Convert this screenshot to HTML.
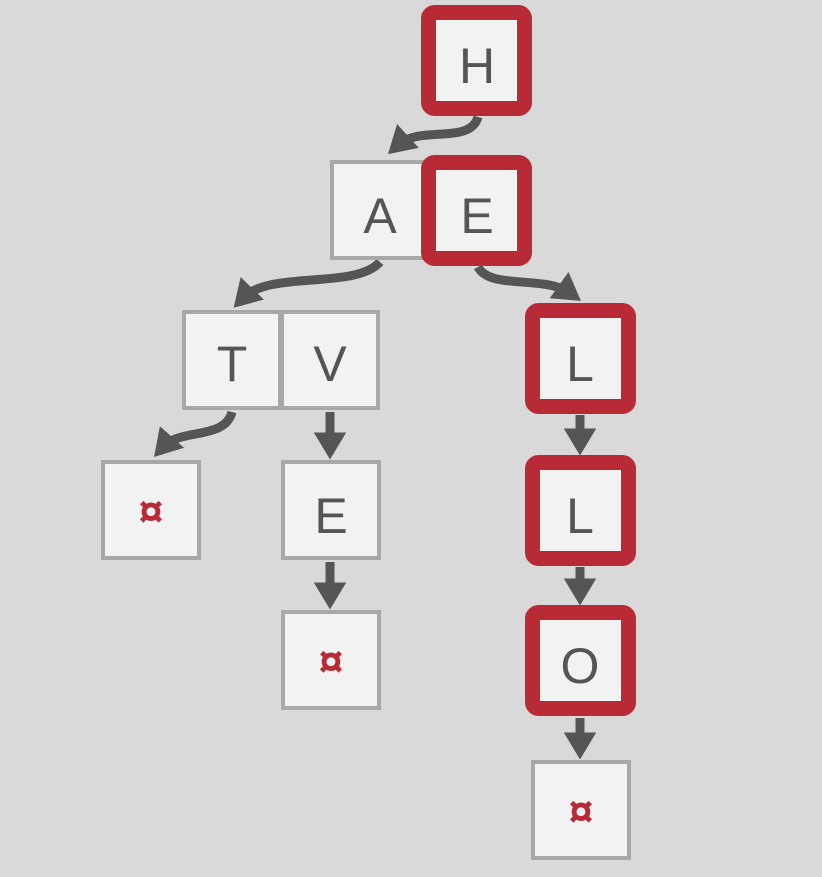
<!DOCTYPE html>
<html><head><meta charset="utf-8"><style>
html,body{margin:0;padding:0;background:#d9d9d9;}
svg{display:block}
text{font-family:"Liberation Sans",sans-serif;font-size:50px;fill:#555;text-anchor:middle;dominant-baseline:central}
.sym{fill:#b82a36;font-size:44px;font-weight:bold}
</style></head><body>
<svg width="822" height="877" viewBox="0 0 822 877">
<defs><marker id="ah" markerWidth="4" markerHeight="4" refX="1.5" refY="2" orient="auto" markerUnits="strokeWidth"><path d="M0,0.2 L3,2 L0,3.8 z" fill="#555"/></marker></defs>
<g fill="none" stroke="#555" stroke-width="9" marker-end="url(#ah)">
<path d="M478,117 C470,145 420,125 398,145"/>
<path d="M478,267 C490,290 545,275 570,293"/>
<path d="M380,262 C355,290 270,270 243,298"/>
<path d="M232,412 C225,440 180,428 163,447"/>
<path d="M330,412 L330,446"/>
<path d="M330,562 L330,596"/>
<path d="M580,415 L580,442"/>
<path d="M580,567 L580,592"/>
<path d="M580,718 L580,746"/>
</g>
<g stroke="#a8a8a8" stroke-width="4" fill="#f2f2f2">
<rect x="332" y="162" width="96" height="96"/>
<rect x="184" y="312" width="96" height="96"/>
<rect x="282" y="312" width="96" height="96"/>
<rect x="103" y="462" width="96" height="96"/>
<rect x="283" y="462" width="96" height="96"/>
<rect x="283" y="612" width="96" height="96"/>
<rect x="533" y="762" width="96" height="96"/>
</g>
<g stroke="#b82a36" stroke-width="15" fill="#f2f2f2">
<rect x="428.5" y="12.5" width="96" height="96" rx="6"/>
<rect x="428.5" y="162.5" width="96" height="96" rx="6"/>
<rect x="532.5" y="310.5" width="96" height="96" rx="6"/>
<rect x="532.5" y="462.5" width="96" height="96" rx="6"/>
<rect x="532.5" y="612.5" width="96" height="96" rx="6"/>
</g>
<text x="477" y="66">H</text>
<text x="380" y="216">A</text>
<text x="477" y="216">E</text>
<text x="232" y="364">T</text>
<text x="330" y="364">V</text>
<text x="580" y="364">L</text>
<text x="580" y="516">L</text>
<text x="331" y="516">E</text>
<text x="580" y="666">O</text>
<text class="sym" x="151" y="512">¤</text>
<text class="sym" x="331" y="662">¤</text>
<text class="sym" x="581" y="812">¤</text>
</svg>
</body></html>
